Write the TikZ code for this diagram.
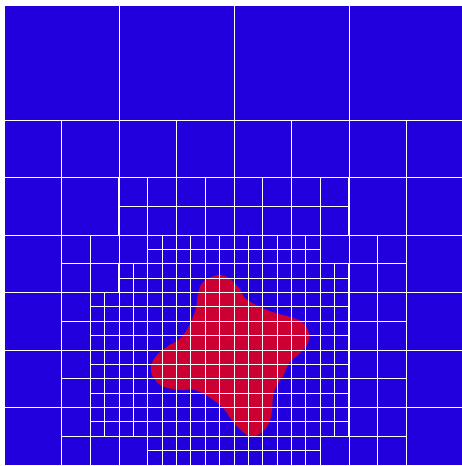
\documentclass[tikz,border=0pt]{standalone}
\usepackage{xcolor}
\usepackage{tikz}
\definecolor{meshblue}{HTML}{2200DD}
\definecolor{bodyred}{HTML}{CC0033}

\begin{document}
\begin{tikzpicture}[
  x=0.2875cm,y=0.2875cm,
  cellgrid/.style={draw=white,line width=0.55pt},
  body/.style={fill=bodyred,draw=none}
]
\useasboundingbox (-0.2783,-0.0696) rectangle (31.861,32.348);
\clip (-0.2783,-0.0696) rectangle (31.861,32.348);
% background domain
\fill[meshblue] (0,0) rectangle (32,32);

% embedded body (traced in pixel units)
\begin{scope}[x=0.02cm,y=-0.02cm,shift={(-4,-465)}]
\fill[body] plot[smooth cycle,tension=0.55] coordinates {
  (218,275) (229,278) (238,287) (245,298) (256,305) (272,312)
  (290,317) (302,322) (308,330) (309,338) (307,345) (300,353)
  (292,360) (287,367) (283,376) (277,385) (273,396) (272,410)
  (269,423) (262,432) (253,437) (244,433) (233,422) (224,409)
  (212,399) (195,390) (178,390) (162,386) (153,377) (151,366)
  (157,355) (168,346) (181,338) (190,324) (196,308) (198,293)
  (204,281)};
\end{scope}

% coarse cells
\draw[cellgrid,step=8] (0,24) grid (32,32);
\draw[cellgrid,step=4] (0,20) grid (32,24);
\draw[cellgrid,step=4] (0,16) grid (8,20);
\draw[cellgrid,step=4] (24,16) grid (32,20);
\draw[cellgrid,step=4] (0,0) grid (4,16);
\draw[cellgrid,step=4] (28,0) grid (32,16);

% refined ring round the body
\draw[cellgrid,step=2] (8,16) grid (24,20);
\draw[cellgrid,step=2] (4,14) grid (10,16);
\draw[cellgrid,step=2] (22,14) grid (28,16);
\draw[cellgrid,step=2] (4,12) grid (8,14);
\draw[cellgrid,step=2] (24,12) grid (28,14);
\draw[cellgrid,step=2] (4,2) grid (6,12);
\draw[cellgrid,step=2] (24,2) grid (28,12);
\draw[cellgrid,step=2] (4,0) grid (10,2);
\draw[cellgrid,step=2] (22,0) grid (28,2);

% finest cells
\draw[cellgrid,step=1] (10,14) grid (22,16);
\draw[cellgrid,step=1] (8,12) grid (24,14);
\draw[cellgrid,step=1] (6,2) grid (24,12);
\draw[cellgrid,step=1] (10,0) grid (22,2);
\end{tikzpicture}
\end{document}
